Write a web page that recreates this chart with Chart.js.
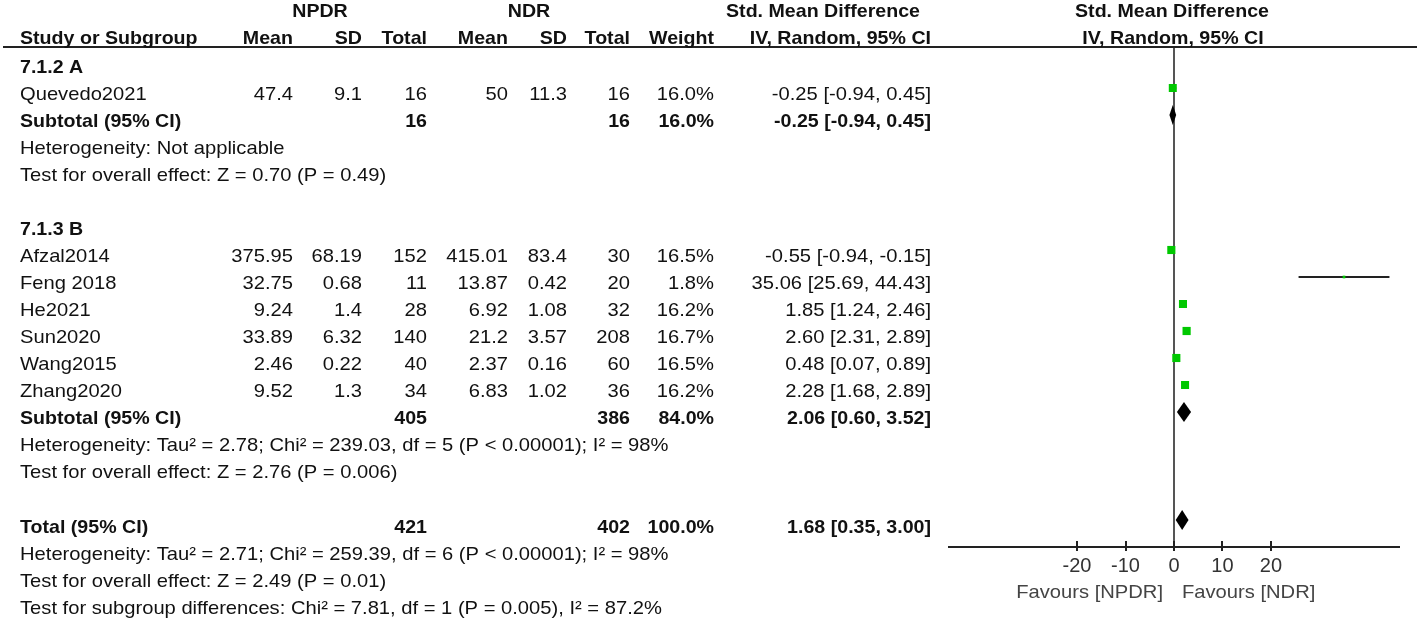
<!DOCTYPE html>
<html>
<head>
<meta charset="utf-8">
<script src="https://cdn.jsdelivr.net/npm/chart.js@4.4.1/dist/chart.umd.min.js"></script>
<style>
  html, body { margin:0; padding:0; background:#ffffff; }
  #c { display:block; }
</style>
</head>
<body>
<canvas id="c" width="1423" height="621"></canvas>
<script>
// ---------- data ----------
const studyNames = ['Quevedo2021','Afzal2014','Feng 2018','He2021','Sun2020','Wang2015','Zhang2020'];
const studyRow   = [1, 7, 8, 9, 10, 11, 12];
const npdrMean   = [47.4, 375.95, 32.75, 9.24, 33.89, 2.46, 9.52];
const npdrSD     = [9.1, 68.19, 0.68, 1.4, 6.32, 0.22, 1.3];
const npdrTotal  = [16, 152, 11, 28, 140, 40, 34];
const ndrMean    = [50, 415.01, 13.87, 6.92, 21.2, 2.37, 6.83];
const ndrSD      = [11.3, 83.4, 0.42, 1.08, 3.57, 0.16, 1.02];
const ndrTotal   = [16, 30, 20, 32, 208, 60, 36];
const weightPct  = [16.0, 16.5, 1.8, 16.2, 16.7, 16.5, 16.2];
const smd        = [-0.25, -0.55, 35.06, 1.85, 2.60, 0.48, 2.28];
const ciLow      = [-0.94, -0.94, 25.69, 1.24, 2.31, 0.07, 1.68];
const ciHigh     = [0.45, -0.15, 44.43, 2.46, 2.89, 0.89, 2.89];

const summaryLabels    = ['Subtotal (95% CI)', 'Subtotal (95% CI)', 'Total (95% CI)'];
const summaryRow       = [2, 13, 17];
const summaryNpdrTotal = [16, 405, 421];
const summaryNdrTotal  = [16, 386, 402];
const summaryWeight    = [16.0, 84.0, 100.0];
const summarySmd       = [-0.25, 2.06, 1.68];
const summaryLow       = [-0.94, 0.60, 0.35];
const summaryHigh      = [0.45, 3.52, 3.00];

const groupLabels = ['7.1.2 A', '7.1.3 B'];
const groupRow    = [0, 6];

const noteRow  = [3, 4, 14, 15, 18, 19, 20];
const noteText = [
  'Heterogeneity: Not applicable',
  'Test for overall effect: Z = 0.70 (P = 0.49)',
  'Heterogeneity: Tau² = 2.78; Chi² = 239.03, df = 5 (P < 0.00001); I² = 98%',
  'Test for overall effect: Z = 2.76 (P = 0.006)',
  'Heterogeneity: Tau² = 2.71; Chi² = 259.39, df = 6 (P < 0.00001); I² = 98%',
  'Test for overall effect: Z = 2.49 (P = 0.01)',
  'Test for subgroup differences: Chi² = 7.81, df = 1 (P = 0.005), I² = 87.2%'
];

const xTickValues = [-20, -10, 0, 10, 20];
const favourLeft  = 'Favours [NPDR]';
const favourRight = 'Favours [NDR]';

// ---------- style ----------
const FONT = '"Liberation Sans", Arial, sans-serif';
const REG = '18.5px ' + FONT;
const BOLD = 'bold 18.5px ' + FONT;
const REG_SX = 1.09, BOLD_SX = 1.06;
const TXT = '#111111';
const GREEN = '#00c800';

const fmtCI = (m, l, h) => m.toFixed(2) + ' [' + l.toFixed(2) + ', ' + h.toFixed(2) + ']';

// ---------- datasets ----------
const squareData = studyNames.map((n, i) => ({ x: smd[i], y: studyRow[i] }));
const squareRadius = weightPct.map(w => (2 * Math.sqrt(w)) / (2 * Math.SQRT1_2));

const datasets = [];
datasets.push({
  label: 'studies', data: squareData, pointStyle: 'rect',
  pointRadius: squareRadius, backgroundColor: GREEN, borderWidth: 0, order: 0
});
studyNames.forEach((n, i) => {
  datasets.push({
    label: 'ci ' + n,
    data: [{ x: ciLow[i], y: studyRow[i] }, { x: ciHigh[i], y: studyRow[i] }],
    showLine: true, borderColor: '#222', borderWidth: 2, pointRadius: 0, order: 1
  });
});
datasets.push({
  label: 'zero', data: [{ x: 0, y: -0.52 }, { x: 0, y: 18 }],
  showLine: true, borderColor: '#555', borderWidth: 2, pointRadius: 0, order: 2
});

// ---------- plugins ----------
const forestPlugin = {
  id: 'forest',
  afterDatasetsDraw(chart) {
    const ctx = chart.ctx, xs = chart.scales.x, ys = chart.scales.y;
    ctx.save();
    ctx.fillStyle = '#000';
    summarySmd.forEach((m, i) => {
      const y = ys.getPixelForValue(summaryRow[i]);
      ctx.beginPath();
      ctx.moveTo(xs.getPixelForValue(summaryLow[i]), y);
      ctx.lineTo(xs.getPixelForValue(m), y - 10);
      ctx.lineTo(xs.getPixelForValue(summaryHigh[i]), y);
      ctx.lineTo(xs.getPixelForValue(m), y + 10);
      ctx.closePath();
      ctx.fill();
    });
    ctx.restore();
  },
  afterDraw(chart) {
    const ctx = chart.ctx, xs = chart.scales.x, ys = chart.scales.y;
    const ca = chart.chartArea;
    ctx.save();
    // header rule
    ctx.strokeStyle = '#222'; ctx.lineWidth = 2;
    ctx.beginPath(); ctx.moveTo(3, ca.top); ctx.lineTo(1417, ca.top); ctx.stroke();
    // upper halves of tick marks
    xTickValues.forEach(v => {
      const px = Math.round(xs.getPixelForValue(v));
      ctx.beginPath(); ctx.moveTo(px, ca.bottom - 6); ctx.lineTo(px, ca.bottom); ctx.stroke();
    });

    ctx.fillStyle = TXT;
    ctx.textBaseline = 'alphabetic';
    const t = (s, x, y, align, font) => {
      ctx.save();
      ctx.font = font; ctx.textAlign = align;
      ctx.translate(x, y);
      ctx.scale(font === BOLD ? BOLD_SX : REG_SX, 1);
      ctx.fillText(s, 0, 0);
      ctx.restore();
    };

    // headers
    const h1 = ca.top - 30, h2 = ca.top - 3;
    t('NPDR', 320, h1, 'center', BOLD);
    t('NDR', 529, h1, 'center', BOLD);
    t('Std. Mean Difference', 823, h1, 'center', BOLD);
    t('Std. Mean Difference', 1172, h1, 'center', BOLD);
    t('Study or Subgroup', 20, h2, 'left', BOLD);
    t('Mean', 293, h2, 'right', BOLD);
    t('SD', 362, h2, 'right', BOLD);
    t('Total', 427, h2, 'right', BOLD);
    t('Mean', 508, h2, 'right', BOLD);
    t('SD', 567, h2, 'right', BOLD);
    t('Total', 630, h2, 'right', BOLD);
    t('Weight', 714, h2, 'right', BOLD);
    t('IV, Random, 95% CI', 931, h2, 'right', BOLD);
    t('IV, Random, 95% CI', 1173, h2, 'center', BOLD);

    const rowY = r => ys.getPixelForValue(r) + 12.5;
    groupLabels.forEach((g, i) => t(g, 20, rowY(groupRow[i]), 'left', BOLD));
    studyNames.forEach((n, i) => {
      const y = rowY(studyRow[i]);
      t(n, 20, y, 'left', REG);
      t(String(npdrMean[i]), 293, y, 'right', REG);
      t(String(npdrSD[i]), 362, y, 'right', REG);
      t(String(npdrTotal[i]), 427, y, 'right', REG);
      t(String(ndrMean[i]), 508, y, 'right', REG);
      t(String(ndrSD[i]), 567, y, 'right', REG);
      t(String(ndrTotal[i]), 630, y, 'right', REG);
      t(weightPct[i].toFixed(1) + '%', 714, y, 'right', REG);
      t(fmtCI(smd[i], ciLow[i], ciHigh[i]), 931, y, 'right', REG);
    });
    summaryLabels.forEach((s, i) => {
      const y = rowY(summaryRow[i]);
      t(s, 20, y, 'left', BOLD);
      t(String(summaryNpdrTotal[i]), 427, y, 'right', BOLD);
      t(String(summaryNdrTotal[i]), 630, y, 'right', BOLD);
      t(summaryWeight[i].toFixed(1) + '%', 714, y, 'right', BOLD);
      t(fmtCI(summarySmd[i], summaryLow[i], summaryHigh[i]), 931, y, 'right', BOLD);
    });
    noteText.forEach((s, i) => t(s, 20, rowY(noteRow[i]), 'left', REG));

    // favours labels
    ctx.fillStyle = '#444';
    const x0 = xs.getPixelForValue(0);
    t(favourLeft, x0 - 11, 598, 'right', REG);
    t(favourRight, x0 + 8, 598, 'left', REG);
    ctx.restore();
  }
};

new Chart(document.getElementById('c'), {
  type: 'scatter',
  data: { datasets },
  options: {
    responsive: false, animation: false, devicePixelRatio: 1,
    layout: { padding: { left: 949, right: 24, top: 47, bottom: 34 } },
    plugins: { legend: { display: false }, tooltip: { enabled: false } },
    scales: {
      x: {
        type: 'linear', min: -46.4, max: 46.4, position: 'bottom',
        afterBuildTicks: s => { s.ticks = xTickValues.map(v => ({ value: v })); },
        afterFit: s => { s.height = 40; },
        grid: { drawOnChartArea: false, drawTicks: true, tickLength: 4, color: '#222', lineWidth: 2 },
        border: { display: true, color: '#222', width: 2 },
        ticks: { font: { family: FONT, size: 20 }, color: '#333', padding: 3, maxRotation: 0, autoSkip: false }
      },
      y: { type: 'linear', min: -0.5185, max: 18, reverse: true, display: false }
    }
  },
  plugins: [forestPlugin]
});
</script>
</body>
</html>
